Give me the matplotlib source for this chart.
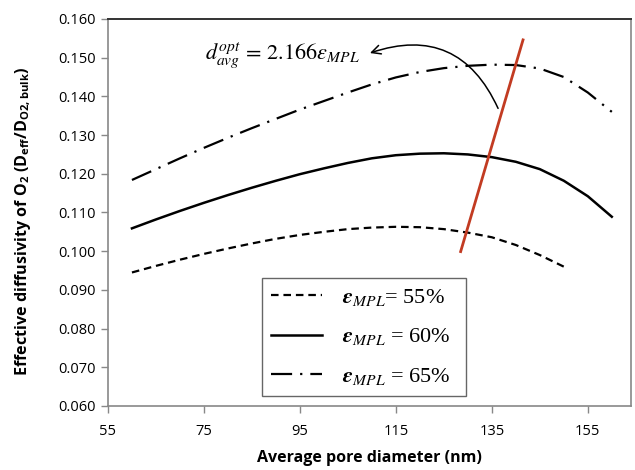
'''
Effective O2 diffusivity vs average pore diameter for three MPL porosities.
'''

import matplotlib
matplotlib.use('Agg')
import matplotlib.pyplot as plt
from matplotlib.font_manager import FontProperties

plt.rcParams['font.family'] = 'Open Sans'
plt.rcParams['mathtext.fontset'] = 'custom'
plt.rcParams['mathtext.rm'] = 'Open Sans:bold'

# pore diameter (nm)
x_long = [60, 65, 70, 75, 80, 85, 90, 95, 100, 105, 110, 115, 120, 125, 130, 135, 140, 145, 150, 155, 160]
x_short = [60, 65, 70, 75, 80, 85, 90, 95, 100, 105, 110, 115, 120, 125, 130, 135, 140, 145, 150]

# effective diffusivity, eps_MPL = 55 %
d55 = [0.0945, 0.0962, 0.0978, 0.0993, 0.1007, 0.1020, 0.1032, 0.1042, 0.1050, 0.1057,
       0.1061, 0.1063, 0.1062, 0.1057, 0.1048, 0.1036, 0.1016, 0.0990, 0.0960]
# eps_MPL = 60 %
d60 = [0.1059, 0.1082, 0.1104, 0.1125, 0.1145, 0.1164, 0.1182, 0.1199, 0.1214, 0.1228,
       0.1240, 0.1248, 0.1252, 0.1253, 0.1250, 0.1243, 0.1231, 0.1212, 0.1182, 0.1142, 0.1089]
# eps_MPL = 65 %
d65 = [0.1184, 0.1212, 0.1240, 0.1267, 0.1293, 0.1318, 0.1342, 0.1366, 0.1388, 0.1410,
       0.1431, 0.1449, 0.1463, 0.1473, 0.1479, 0.1482, 0.1481, 0.1472, 0.1450, 0.1410, 0.1360]

# optimum line (red)
opt_x = [128.5, 141.5]
opt_y = [0.0999, 0.1546]

labels = [r'$\mathbfit{\varepsilon}_{MPL}$= 55%',
          r'$\mathbfit{\varepsilon}_{MPL}$ = 60%',
          r'$\mathbfit{\varepsilon}_{MPL}$ = 65%']


def main():
    fig = plt.figure(figsize=(6.35, 4.7), dpi=100)
    ax = fig.add_axes([0.170, 0.1362, 0.8237, 0.8234])

    ax.plot(x_short, d55, color='black', lw=1.6, dashes=(3.4, 2.2), label=labels[0])
    ax.plot(x_long, d60, color='black', lw=1.8, label=labels[1])
    ax.plot(x_long, d65, color='black', lw=1.6, dashes=(9.5, 3.6, 1.0, 3.6), label=labels[2])
    ax.plot(opt_x, opt_y, color='#c23b22', lw=2.0)

    ax.annotate('', xy=(109.6, 0.1512), xytext=(136.3, 0.1369),
                arrowprops=dict(arrowstyle='->', color='black', lw=1.1,
                                connectionstyle='arc3,rad=0.45', shrinkA=0, shrinkB=0,
                                mutation_scale=16))
    ax.text(75.2, 0.1507, r'$d_{avg}^{opt}\,=\,2.166\varepsilon_{MPL}$', fontsize=16,
            math_fontfamily='stix', ha='left', va='center')

    ax.set_xlim(55, 164)
    ax.set_ylim(0.060, 0.160)
    ax.set_xticks([55, 75, 95, 115, 135, 155])
    ax.set_yticks([0.06 + 0.01 * i for i in range(11)])
    ax.set_yticklabels(['%.3f' % (0.06 + 0.01 * i) for i in range(11)])
    ax.tick_params(axis='both', direction='out', length=5, width=1, color='#888888',
                   labelsize=10.5, pad=4)
    ax.tick_params(axis='x', pad=8)

    for s in ['left', 'bottom', 'right']:
        ax.spines[s].set_color('#888888')
        ax.spines[s].set_linewidth(1.2)
    ax.spines['top'].set_color('#333333')
    ax.spines['top'].set_linewidth(1.4)

    ax.set_xlabel('Average pore diameter (nm)', fontsize=11.5, fontweight='bold', labelpad=8)
    ax.set_ylabel(r'Effective diffusivity of O$_\mathrm{2}$ (D$_\mathrm{eff}$/D$_\mathrm{O2,bulk}$)',
                  fontsize=11.6, fontweight='bold')
    ax.yaxis.set_label_coords(-0.143, 0.477)

    prop = FontProperties(family='Liberation Serif', size=16, math_fontfamily='stix')
    leg = ax.legend(loc='upper left', bbox_to_anchor=(0.2945, 0.0284, 0.39, 0.3023),
                    mode='expand', prop=prop, frameon=True, fancybox=False,
                    edgecolor='#666666', framealpha=1, borderaxespad=0,
                    handlelength=2.3, handletextpad=0.9, labelspacing=0.83, borderpad=0.4)
    leg.get_frame().set_linewidth(1.0)

    plt.savefig('out.png', dpi=100)


if __name__ == "__main__":
    main()
